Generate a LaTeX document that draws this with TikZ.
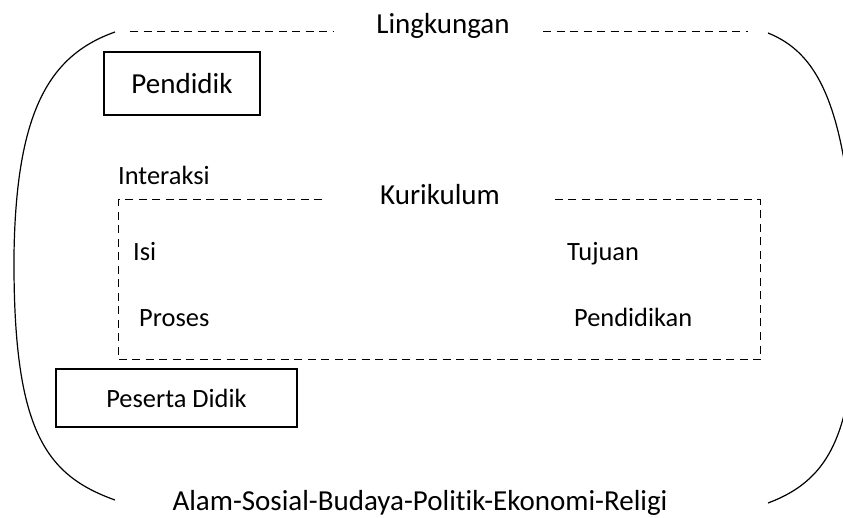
\documentclass[tikz,border=0pt]{standalone}
\usepackage{fontspec}
\setmainfont{Carlito}[Ligatures=NoCommon]
\usetikzlibrary{calc}

\begin{document}
\begin{tikzpicture}[x=1pt, y=-1pt,
        frame/.style={line width=1.2pt},
        dashline/.style={line width=1pt, dash pattern=on 8pt off 5.5pt},
        bigtext/.style={inner sep=0pt, font=\fontsize{29}{34}\selectfont},
        smalltext/.style={inner sep=0pt, font=\fontsize{26.4}{31}\selectfont},
        actor/.style={draw, line width=1.1pt, inner sep=0pt}]
        \useasboundingbox (0,0) rectangle (843,518);

        % outer frame
        \coordinate (LT) at (115,32);
        \coordinate (LM) at (14,255);
        \coordinate (LB) at (115,500);
        \coordinate (RT) at (768,33);
        \coordinate (RM) at (855,275);
        \coordinate (RB) at (768,503);
        \draw[frame] (LT) .. controls (50,55) and (16,110) .. (LM) .. controls (13,430) and (45,475) .. (LB);
        \draw[frame] (RT) .. controls (815,52) and (848,100) .. (RM) .. controls (857,425) and (835,478) .. (RB);

        \node[bigtext, anchor=base] (lingkungan) at (443,34) {Lingkungan};
        \draw[dashline] (130,32) -- (333,32);
        \draw[dashline] (543,32) -- (748,32);

        \node[actor, bigtext, minimum width=156pt, minimum height=63pt] (pendidik) at (182,83.5) {Pendidik};

        % kurikulum box
        \node[smalltext, anchor=base west] (interaksi) at (118,185) {Interaksi};
        \node[bigtext, anchor=base] (kurikulum) at (440,205) {Kurikulum};
        \coordinate (KA) at (118,200);
        \coordinate (KB) at (760,200);
        \coordinate (KC) at (760,360);
        \coordinate (KD) at (118,360);
        \draw[dashline] (322,200) -- (KA) -- (KD) -- (KC) -- (KB) -- (553,200);

        \node[smalltext, anchor=base west] (isi) at (133,261) {Isi};
        \node[smalltext, anchor=base west] (tujuan) at (567,261) {Tujuan};
        \node[smalltext, anchor=base west] (proses) at (139,327) {Proses};
        \node[smalltext, anchor=base west] (pendidikan) at (574,327) {Pendidikan};

        \node[actor, smalltext, minimum width=241pt, minimum height=58pt] (peserta) at (176.5,398) {Peserta Didik};

        \node[bigtext, anchor=base] (alam) at (420,510) {Alam-Sosial-Budaya-Politik-Ekonomi-Religi};
    \end{tikzpicture}
\end{document}
